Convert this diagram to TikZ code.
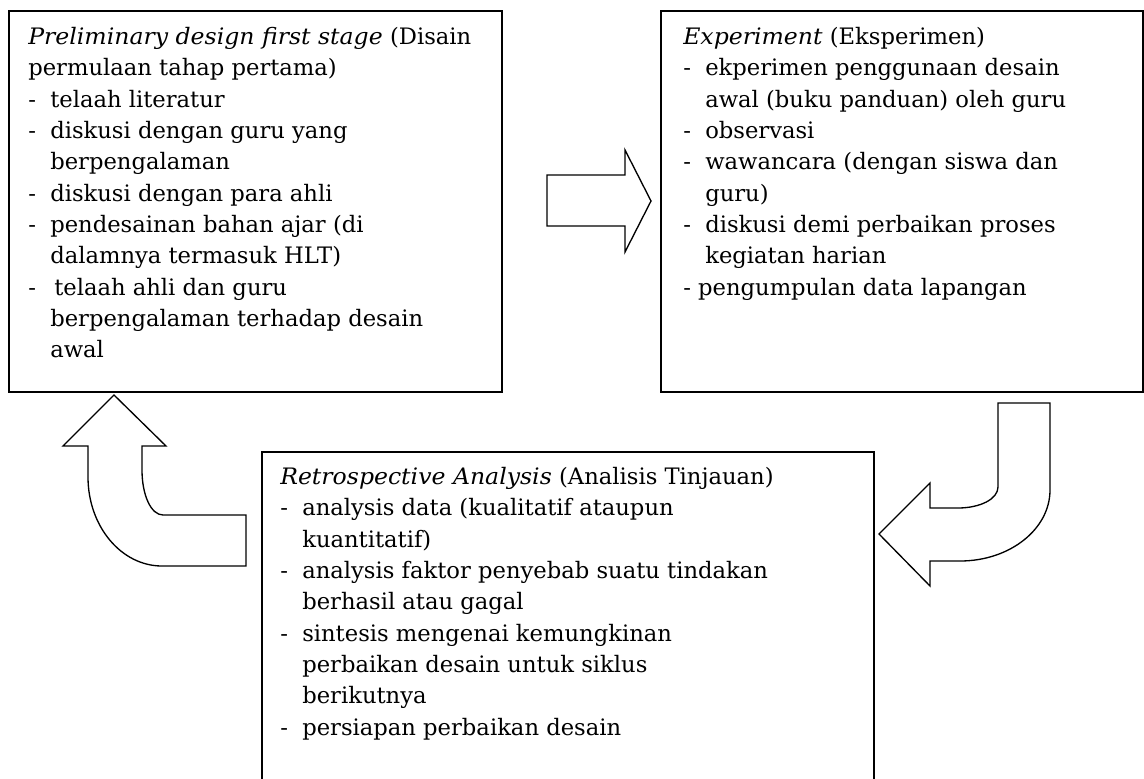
\documentclass[tikz,border=0pt]{standalone}
\usepackage{fontspec}
\setmainfont{DejaVu Serif}[ItalicFeatures={FakeStretch=1.04}]
\newcommand\itm[1]{\makebox[16.5pt][l]{-}#1}
\newcommand\cnt[1]{\makebox[16.5pt][l]{}#1}
\begin{document}
\begin{tikzpicture}[x=0.75pt,y=-0.75pt,
  box/.style={draw, line width=1.5pt, inner sep=0pt, anchor=north west},
  txt/.style={anchor=north west, inner sep=0pt, align=left, font=\fontsize{17}{23.5}\selectfont},
  blk/.style={draw, line width=1pt, fill=white, line join=miter}]
\clip (0,0) rectangle (1144,778);
\fill[white] (0,0) rectangle (1144,778);
% boxes
\node (b1) [box, minimum width=369.75pt, minimum height=285.75pt] at (8,10) {};
\node (b2) [box, minimum width=361.5pt, minimum height=285.75pt] at (660,10) {};
\node (b3) [box, minimum width=459pt, minimum height=262pt] at (261,451) {};
% texts
\node (t1) [txt] at (28,27) {\textit{Preliminary design first stage} (Disain\\
permulaan tahap pertama)\\
\itm{telaah literatur}\\
\itm{diskusi dengan guru yang}\\
\cnt{berpengalaman}\\
\itm{diskusi dengan para ahli}\\
\itm{pendesainan bahan ajar (di}\\
\cnt{dalamnya termasuk HLT)}\\
\itm{\hspace{3pt}telaah ahli dan guru}\\
\cnt{berpengalaman terhadap desain}\\
\cnt{awal}};
\node (t2) [txt] at (683,27) {\textit{Experiment} (Eksperimen)\\
\itm{ekperimen penggunaan desain}\\
\cnt{awal (buku panduan) oleh guru}\\
\itm{observasi}\\
\itm{wawancara (dengan siswa dan}\\
\cnt{guru)}\\
\itm{diskusi demi perbaikan proses}\\
\cnt{kegiatan harian}\\
- pengumpulan data lapangan};
\node (t3) [txt] at (280,467) {\textit{Retrospective Analysis} (Analisis Tinjauan)\\
\itm{analysis data (kualitatif ataupun}\\
\cnt{kuantitatif)}\\
\itm{analysis faktor penyebab suatu tindakan}\\
\cnt{berhasil atau gagal}\\
\itm{sintesis mengenai kemungkinan}\\
\cnt{perbaikan desain untuk siklus}\\
\cnt{berikutnya}\\
\itm{persiapan perbaikan desain}};
% block arrows
\draw[blk] (547,175) -- (625,175) -- (625,150) -- (651,201) -- (625,252) -- (625,226) -- (547,226) -- cycle;
\draw[blk] (114,395) -- (166,446) -- (142,446) -- (142,470)
  .. controls (142,495) and (151,515) .. (163,515) -- (246,515) -- (246,566) -- (162,566)
  .. controls (121,566) and (88,526) .. (88,477) -- (88,446) -- (63,446) -- cycle;
\draw[blk] (998,403) -- (1050,403) -- (1050,490)
  .. controls (1050,529) and (1010,561) .. (960,561) -- (930,561) -- (930,586) -- (879,534)
  -- (930,483) -- (930,508) -- (958,508) .. controls (980,508) and (998,499) .. (998,487) -- cycle;
\end{tikzpicture}
\end{document}
